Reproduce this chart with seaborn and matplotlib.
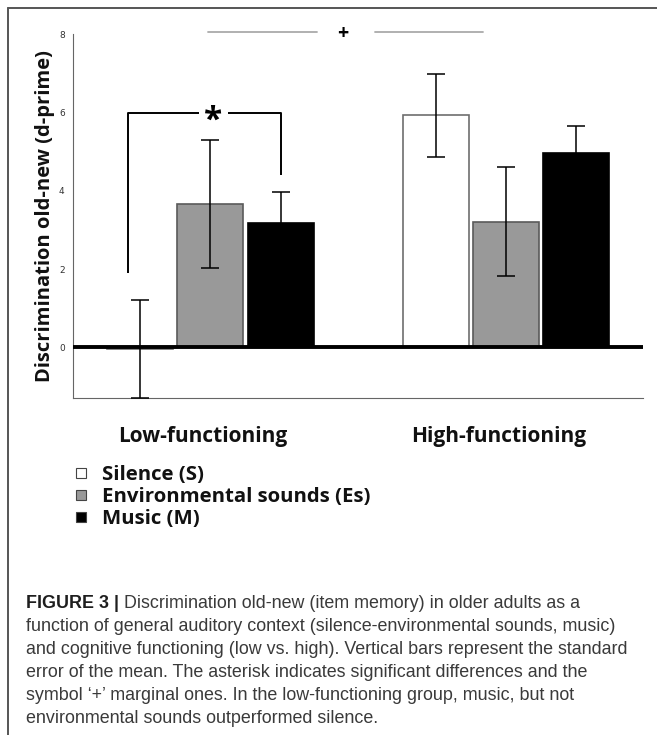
import matplotlib
matplotlib.use("Agg")
import matplotlib.pyplot as plt
from matplotlib.lines import Line2D
from matplotlib import font_manager
import seaborn as sns
import pandas as pd

# ---- data -------------------------------------------------------------
groups = ["Low-functioning", "High-functioning"]
conditions = ["Silence (S)", "Environmental sounds (Es)", "Music (M)"]
silence_mean = [-0.05, 5.93]
environment_mean = [3.67, 3.21]
music_mean = [3.18, 4.97]
silence_sem = [1.25, 1.07]
environment_sem = [1.64, 1.40]
music_sem = [0.80, 0.68]
yticks = [0, 2, 4, 6, 8]

caption_bold = "FIGURE 3 |"
caption_lines = [
    " Discrimination old-new (item memory) in older adults as a",
    "function of general auditory context (silence-environmental sounds, music)",
    "and cognitive functioning (low vs. high). Vertical bars represent the standard",
    "error of the mean. The asterisk indicates significant differences and the",
    "symbol \u2018+\u2019 marginal ones. In the low-functioning group, music, but not",
    "environmental sounds outperformed silence.",
]

means = [silence_mean, environment_mean, music_mean]
sems = [silence_sem, environment_sem, music_sem]
df = pd.DataFrame({
    "group": [g for _ in conditions for g in groups],
    "condition": [c for c in conditions for _ in groups],
    "value": [v for m in means for v in m],
})

# ---- style ------------------------------------------------------------
sns.set_theme(style="white")
installed = {f.name for f in font_manager.fontManager.ttflist}
label_font = ["Open Sans", "DejaVu Sans"]
caption_font = (["Liberation Sans Narrow", "Liberation Sans"]
                if "Liberation Sans Narrow" in installed else ["Liberation Sans"])
plt.rcParams["font.family"] = label_font

fills = ["#ffffff", "#999999", "#000000"]
edges = ["#6e6e6e", "#5a5a5a", "#000000"]

W, H = 657, 735
fig = plt.figure(figsize=(W / 100, H / 100), dpi=100)
ax = fig.add_axes([73 / W, 1 - 398 / H, 570 / W, (398 - 34.5) / H])

sns.barplot(data=df, x="group", y="value", hue="condition",
            order=groups, hue_order=conditions, palette=fills,
            width=0.714, gap=0.06, errorbar=None, legend=False,
            linewidth=1.2, ax=ax)

for cont, ec, err in zip(ax.containers, edges, sems):
    xs, ys = [], []
    for bar in cont:
        bar.set_edgecolor(ec)
        xs.append(bar.get_x() + bar.get_width() / 2)
        ys.append(bar.get_height())
    ax.errorbar(xs, ys, yerr=err, fmt="none", ecolor="black",
                elinewidth=1.1, capsize=6.5, capthick=1.1, zorder=4)

ax.axhline(0, color="black", lw=2.8, zorder=5)
ax.set_xlim(-0.465, 1.464)
ax.set_ylim(-1.3, 8)
ax.set_yticks(yticks)
ax.set_yticklabels([str(t) for t in yticks], fontsize=6.5, color="#333333",
                   family=["DejaVu Sans"])
ax.tick_params(axis="y", length=0, pad=6)
ax.tick_params(axis="x", length=0)
ax.set_xticks([])
ax.set_xlabel("")
for side in ["top", "right"]:
    ax.spines[side].set_visible(False)
for side in ["left", "bottom"]:
    ax.spines[side].set_color("#666666")
    ax.spines[side].set_linewidth(0.8)
ax.set_ylabel("Discrimination old-new (d-prime)", fontsize=14.5,
              fontweight="bold", color="#111111", labelpad=3)

# group labels under the axis
for i, g in enumerate(groups):
    ax.text(i - 0.025, -0.107, g, transform=ax.get_xaxis_transform(),
            ha="center", va="center", fontsize=15, fontweight="bold",
            color="#111111")

# significance bracket within the low-functioning group
low_sil = ax.containers[0][0]
low_mus = ax.containers[2][0]
xl = low_sil.get_x() + low_sil.get_width() / 2 - 0.04
xr = low_mus.get_x() + low_mus.get_width() / 2
star_x, star_gap = 0.01, 0.048
bk = dict(color="black", lw=1.4, solid_capstyle="butt")
ax.plot([xl, xl, star_x - star_gap], [1.9, 6.0, 6.0], **bk)
ax.plot([star_x + star_gap, xr, xr], [6.0, 6.0, 4.4], **bk)
ax.text(star_x, 5.78, "*", ha="center", va="center", fontsize=24,
        fontweight="bold", color="black")

# marginal difference between groups
plus_x = 0.448
gl = dict(color="#aaaaaa", lw=1.3, clip_on=False)
ax.plot([-0.008, 0.36], [8.07, 8.07], **gl)
ax.plot([0.557, 0.922], [8.07, 8.07], **gl)
ax.text(plus_x, 8.02, "+", ha="center", va="center", fontsize=14,
        fontweight="bold", color="black", clip_on=False)

# legend
handles = [Line2D([], [], ls="none", marker="s", markersize=7,
                  markerfacecolor=f, markeredgecolor="#444444",
                  markeredgewidth=0.8) for f in fills]
leg = fig.legend(handles, conditions, loc="upper left",
                 bbox_to_anchor=(71 / W, 1 - 465 / H), frameon=False,
                 prop=dict(family=label_font, weight="bold", size=14.7),
                 handlelength=1.0, handletextpad=0.5, labelspacing=0.1,
                 borderpad=0, borderaxespad=0)
for t in leg.get_texts():
    t.set_color("#111111")

# caption
renderer = fig.canvas.get_renderer()
cap_size = 12.9
y0 = 1 - 608 / H
dy = 23.0 / H
tb = fig.text(26 / W, y0, caption_bold, fontsize=cap_size, fontweight="bold",
              family=caption_font, color="#1e1e1e", va="baseline")
bw = tb.get_window_extent(renderer).width
fig.text((26 + bw) / W, y0, caption_lines[0], fontsize=cap_size,
         family=caption_font, color="#3a3a3a", va="baseline")
for k, line in enumerate(caption_lines[1:], start=1):
    fig.text(26 / W, y0 - k * dy, line, fontsize=cap_size,
             family=caption_font, color="#3a3a3a", va="baseline")

# outer frame
frame = dict(color="#555555", lw=1.4, transform=fig.transFigure)
fig.add_artist(Line2D([8 / W, 1], [1 - 8 / H, 1 - 8 / H], **frame))
fig.add_artist(Line2D([8 / W, 8 / W], [0, 1 - 8 / H], **frame))

fig.savefig("out.png", dpi=100)
